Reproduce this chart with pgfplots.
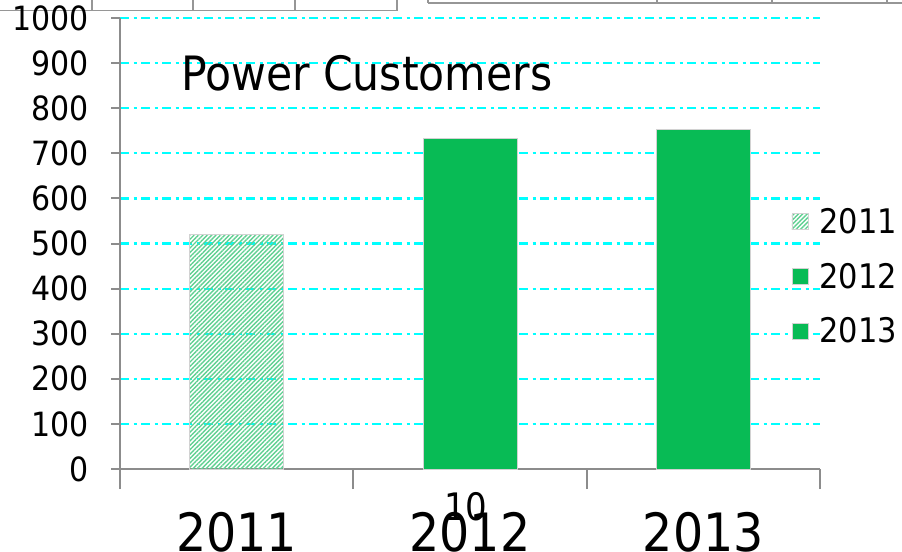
\documentclass[border=0pt]{standalone}
\usepackage{pgfplots}
\pgfplotsset{compat=1.18}
\usepackage{fontspec}
\setmainfont{DejaVu Sans Condensed}
\usetikzlibrary{patterns.meta}
\definecolor{barg}{RGB}{8,187,85}
\definecolor{hatchg}{RGB}{95,208,145}
\definecolor{axgray}{RGB}{140,140,140}
\definecolor{tblgray}{RGB}{150,150,150}
\definecolor{gridc}{RGB}{0,255,255}
\begin{document}
\begin{tikzpicture}[x=1bp,y=1bp]
\path[use as bounding box] (0,0) rectangle (902,-552);
\draw[tblgray, line width=1.5bp] (0,-10.7) -- (397,-10.7);
\foreach \x in {92,193,295,397} \draw[tblgray,line width=1.5bp] (\x,0) -- (\x,-10.7);
\draw[tblgray, line width=1.5bp] (428,-3) -- (902,-3);
\foreach \x in {428,657,772,887} \draw[tblgray,line width=1.5bp] (\x,0) -- (\x,-3);
\begin{axis}[
  at={(120bp,-469bp)}, anchor=south west,
  scale only axis, width=700bp, height=451bp,
  xmin=-0.5, xmax=2.5, ymin=0, ymax=1000,
  axis x line*=bottom, axis y line*=left,
  axis line style={axgray, line width=2bp, -},
  tick align=outside,
  tick style={axgray, line width=2bp},
  major tick length=9bp, minor tick length=20bp,
  xtick={0,1,2}, xticklabels={2011,2012,2013},
  major x tick style={draw=none},
  minor xtick={-0.5,0.5,1.5,2.5},
  ytick={0,100,...,1000},
  ymajorgrids,
  grid style={gridc, line width=2.2bp, dash pattern=on 9bp off 4.5bp on 3bp off 4.5bp},
  /pgf/number format/assume math mode=true,
  /pgf/number format/1000 sep={},
  yticklabel style={font=\fontsize{33.5}{40}\selectfont, inner sep=0pt, anchor=east, xshift=-22bp},
  xticklabel style={font=\fontsize{53}{60}\selectfont, inner sep=0pt, anchor=north, yshift=-34bp},
  ybar, bar shift=0pt, bar width=94bp,
  area legend,
  legend image code/.code={\draw[#1] (0bp,-8bp) rectangle (16bp,8bp);},
  legend style={draw=none, fill=none, at={(0.959,0.427)}, anchor=west,
    font=\fontsize{34}{40}\selectfont, inner sep=0pt, row sep=28bp,
    nodes={inner sep=0pt}},
  legend cell align=left,
  clip=false,
]
\addplot[draw=gray!35, line width=0.8bp, pattern={Lines[angle=45,distance=3.1bp,line width=1.4bp]}, pattern color=hatchg] coordinates {(0,521)};
\addlegendentry{\hspace{11bp}2011}
\addplot[draw=gray!35, line width=0.8bp, fill=barg] coordinates {(1,734)};
\addlegendentry{\hspace{11bp}2012}
\addplot[draw=gray!35, line width=0.8bp, fill=barg] coordinates {(2,752)};
\addlegendentry{\hspace{11bp}2013}
\end{axis}
\node[anchor=west, font=\fontsize{47.5}{54}\selectfont, inner sep=0pt] at (181,-73) {Power Customers};
\node[font=\fontsize{38}{44}\selectfont, inner sep=0pt] at (466,-507) {10};
\end{tikzpicture}
\end{document}
